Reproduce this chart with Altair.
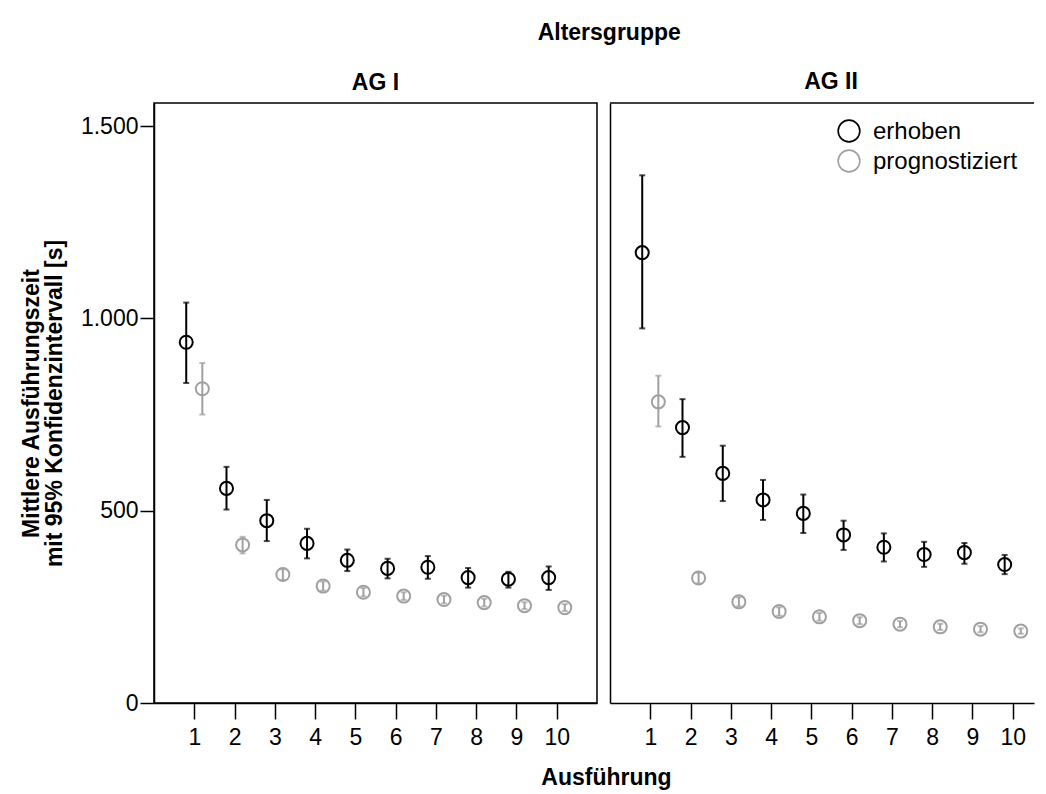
import altair as alt
import pandas as pd

FONT = "Liberation Sans"

ausfuehrung = list(range(1, 11))

# AG I - erhoben
ag1_erh_mean = [938, 558, 474, 415, 371, 350, 353, 326, 322, 326]
ag1_erh_lo = [832, 503, 421, 376, 343, 324, 323, 300, 300, 294]
ag1_erh_hi = [1041, 614, 528, 453, 399, 375, 382, 351, 341, 355]
# AG I - prognostiziert
ag1_prog_mean = [817, 411, 334, 304, 288, 278, 269, 261, 253, 248]
ag1_prog_lo = [750, 389, 320, 292, 277, 268, 259, 251, 244, 239]
ag1_prog_hi = [884, 432, 348, 316, 299, 288, 279, 271, 262, 257]
# AG II - erhoben
ag2_erh_mean = [1171, 716, 597, 528, 493, 437, 405, 386, 391, 360]
ag2_erh_lo = [974, 640, 525, 476, 442, 398, 368, 354, 362, 335]
ag2_erh_hi = [1372, 790, 669, 580, 542, 474, 441, 419, 416, 385]
# AG II - prognostiziert
ag2_prog_mean = [783, 325, 263, 238, 224, 214, 205, 198, 192, 187]
ag2_prog_lo = [719, 311, 251, 227, 214, 205, 197, 190, 184, 180]
ag2_prog_hi = [851, 339, 275, 249, 234, 223, 213, 206, 200, 194]

typen = ["erhoben", "prognostiziert"]
farben = ["#000000", "#a0a0a0"]
y_ticks = [0, 500, 1000, 1500]


def make_df(erh_m, erh_lo, erh_hi, pr_m, pr_lo, pr_hi):
    rows = []
    for i, a in enumerate(ausfuehrung):
        rows.append({"A": a, "Typ": "erhoben", "mean": erh_m[i], "lo": erh_lo[i], "hi": erh_hi[i]})
        rows.append({"A": a, "Typ": "prognostiziert", "mean": pr_m[i], "lo": pr_lo[i], "hi": pr_hi[i]})
    return pd.DataFrame(rows)


df1 = make_df(ag1_erh_mean, ag1_erh_lo, ag1_erh_hi, ag1_prog_mean, ag1_prog_lo, ag1_prog_hi)
df2 = make_df(ag2_erh_mean, ag2_erh_lo, ag2_erh_hi, ag2_prog_mean, ag2_prog_lo, ag2_prog_hi)
leg_df = pd.DataFrame({"Typ": typen})

H = 600
W1 = 443
W2 = 424
PX_PER_UNIT = W1 / 11.0

cscale = alt.Scale(domain=typen, range=farben)


def legend_layers():
    out = []
    for i, t in enumerate(typen):
        b = alt.Chart(leg_df).transform_filter(alt.datum.Typ == t)
        cy = 28 + 30 * i
        out.append(b.mark_point(filled=False, size=470, strokeWidth=1.6, opacity=1,
                                shape="circle").encode(
            x=alt.value(239), y=alt.value(cy),
            color=alt.Color("Typ:N", scale=cscale, legend=None)))
        out.append(b.mark_text(align="left", baseline="middle", fontSize=24, font=FONT,
                               color="black").encode(
            x=alt.value(263), y=alt.value(cy + 1), text="Typ:N"))
    return out


def panel(df, width, label, left):
    dmax = width / PX_PER_UNIT
    base = alt.Chart(df).transform_calculate(
        xpos="datum.A + (datum.Typ == 'erhoben' ? -0.2 : 0.2)"
    )
    if left:
        xaxis = alt.Axis(values=ausfuehrung, title="Ausführung", titleX=452, titleY=74,
                         titleBaseline="middle", titleFontSize=23, titleFontWeight="bold",
                         titleFont=FONT, titleColor="black",
                         labelFontSize=23, labelFont=FONT, labelColor="black", labelPadding=7,
                         tickSize=16, tickWidth=1.5, tickColor="black",
                         domainColor="black", domainWidth=1.5, grid=False)
        yaxis = alt.Axis(values=y_ticks,
                         labelExpr="replace(format(datum.value, ','), ',', '.')",
                         title=["Mittlere Ausführungszeit", "mit 95% Konfidenzintervall [s]"],
                         titleFontSize=23, titleFontWeight="bold", titleFont=FONT,
                         titleColor="black", titleLineHeight=23, titlePadding=14,
                         labelFontSize=23, labelFont=FONT, labelColor="black", labelPadding=2,
                         tickSize=14, tickWidth=1.5, tickColor="black",
                         domainColor="black", domainWidth=1.5, grid=False)
    else:
        xaxis = alt.Axis(values=ausfuehrung, title="",
                         labelFontSize=23, labelFont=FONT, labelColor="black", labelPadding=7,
                         tickSize=16, tickWidth=1.5, tickColor="black",
                         domainColor="black", domainWidth=1.5, grid=False)
        yaxis = alt.Axis(values=y_ticks, labels=False, ticks=False, title="",
                         domainColor="black", domainWidth=1.5, grid=False)

    x = alt.X("xpos:Q", scale=alt.Scale(domain=[0, dmax], nice=False, zero=False), axis=xaxis)
    yscale = alt.Scale(domain=[0, 1560], nice=False)
    col = alt.Color("Typ:N", scale=cscale, legend=None)

    rules = base.mark_rule(strokeWidth=2).encode(
        x=x, y=alt.Y("lo:Q", scale=yscale, axis=yaxis), y2="hi:Q", color=col)
    tlo = base.mark_tick(orient="horizontal", size=6, thickness=2).encode(
        x=x, y=alt.Y("lo:Q", scale=yscale, axis=yaxis), color=col)
    thi = base.mark_tick(orient="horizontal", size=6, thickness=2).encode(
        x=x, y=alt.Y("hi:Q", scale=yscale, axis=yaxis), color=col)
    pts = base.mark_point(filled=False, size=170, strokeWidth=2, opacity=1, shape="circle").encode(
        x=x, y=alt.Y("mean:Q", scale=yscale, axis=yaxis), color=col)

    layers = [rules, tlo, thi, pts]
    if left:
        view = alt.ViewBackground(stroke="black", strokeWidth=1.5)
        tdx = 0
    else:
        top = alt.Chart(pd.DataFrame({"k": [0]})).mark_rule(color="black", strokeWidth=1.5).encode(
            x=alt.value(0), x2=alt.value(width), y=alt.value(0))
        layers.append(top)
        layers.extend(legend_layers())
        view = alt.ViewBackground(strokeOpacity=0)
        tdx = 9

    return alt.layer(*layers).properties(
        width=width, height=H, view=view,
        title=alt.Title(label, fontSize=23, fontWeight="bold", font=FONT, color="black",
                        offset=8, anchor="middle", dx=tdx))


left = panel(df1, W1, "AG I", True)
right = panel(df2, W2, "AG II", False)

chart = alt.hconcat(left, right, spacing=13, bounds="flush").properties(
    title=alt.Title("Altersgruppe", fontSize=23, fontWeight="bold", font=FONT, color="black",
                    anchor="middle", offset=26, dx=82),
    padding={"left": 11, "top": 14, "right": 0, "bottom": 0},
).configure(background="white")

chart.save("out.html", embed_options={"renderer": "svg", "actions": False})
